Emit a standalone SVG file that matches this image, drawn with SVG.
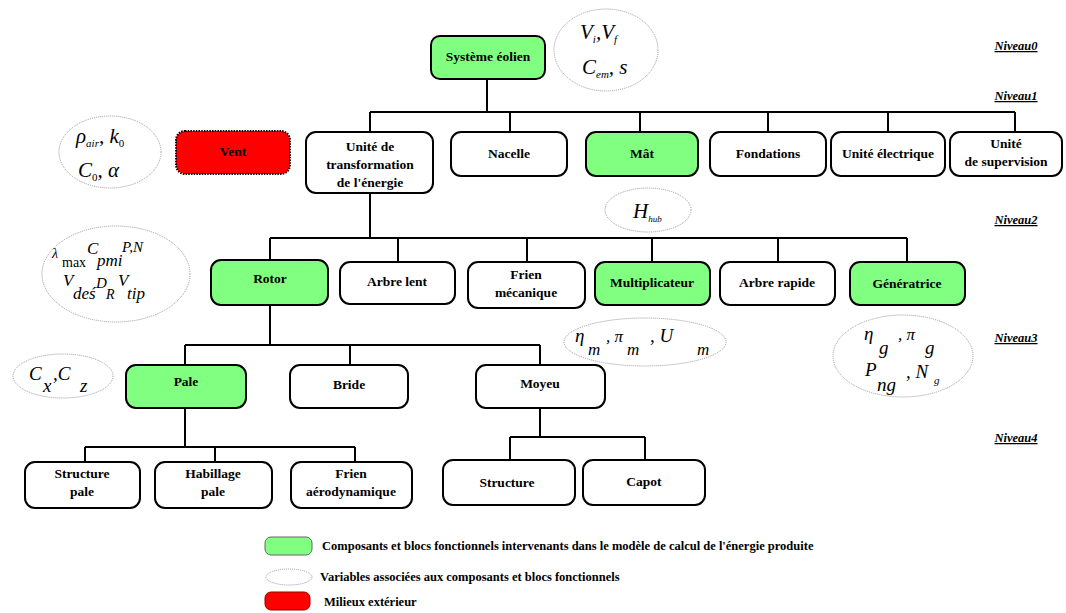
<svg xmlns="http://www.w3.org/2000/svg" width="1066" height="613" viewBox="0 0 1066 613">
<style>
.n{fill:#fff;stroke:#000;stroke-width:2}
.g{fill:#80ff80;stroke:#000;stroke-width:2}
.r{fill:#ff0000;stroke:#000;stroke-width:2;stroke-dasharray:1.5 1.2}
.e{fill:#fff;stroke:#999;stroke-width:1;stroke-dasharray:1 1}
.t{font-family:"Liberation Serif","Times New Roman","DejaVu Serif",serif;font-weight:bold;font-size:13.5px;text-anchor:middle;fill:#000}
.lv{font-family:"Liberation Serif","Times New Roman","DejaVu Serif",serif;font-weight:bold;font-style:italic;font-size:12.5px;text-decoration:underline;text-anchor:middle;fill:#000}
.m{font-family:"Liberation Serif","Times New Roman","DejaVu Serif",serif;font-style:italic;fill:#000}
.lg{font-family:"Liberation Serif","Times New Roman","DejaVu Serif",serif;font-weight:bold;font-size:12.5px;fill:#000}
.c{fill:none;stroke:#000;stroke-width:2}
</style>
<rect width="1066" height="613" fill="#fff"/>
<g id="connectors">
<path class="c" d="M487 79V112M370 112H1015M370 112V132M510 112V132M640 112V132M768 112V132M888 112V132M1015 112V132"/>
<path class="c" d="M370 193V238M270 238H907M270 238V260M398 238V262M527 238V262M652 238V262M778 238V262M907 238V262"/>
<path class="c" d="M270 305V345M185 345H540M185 345V365M350 345V365M540 345V365"/>
<path class="c" d="M185 408V447M85 447H355M85 447V462M215 447V462M355 447V462"/>
<path class="c" d="M540 408V437M510 437H645M510 437V460M645 437V460"/>
</g>
<g id="levels">
<text class="lv" x="1016" y="50">Niveau0</text>
<text class="lv" x="1016" y="100">Niveau1</text>
<text class="lv" x="1016" y="224">Niveau2</text>
<text class="lv" x="1016" y="342">Niveau3</text>
<text class="lv" x="1016" y="442">Niveau4</text>
</g>
<g id="systeme"><rect class="g" x="431" y="36" width="114" height="43" rx="9"/><text class="t" x="488" y="61">Système éolien</text></g>
<g id="var-systeme"><ellipse class="e" cx="606" cy="50" rx="52" ry="41"/>
<text class="m" x="580" y="39" style="font-size:21px">V<tspan dy="4" style="font-size:11px">i</tspan><tspan dy="-4">,V</tspan><tspan dy="4" style="font-size:11px">f</tspan></text>
<text class="m" x="582" y="74" style="font-size:21px">C<tspan dy="4" style="font-size:11px">em</tspan><tspan dy="-4">, s</tspan></text></g>
<g id="var-vent"><ellipse class="e" cx="110" cy="152" rx="51" ry="36"/>
<text class="m" x="76" y="143" style="font-size:21px">ρ<tspan dy="4" style="font-size:11px">air</tspan><tspan dy="-4">, k</tspan><tspan dy="4" style="font-size:11px;font-style:normal">0</tspan></text>
<text class="m" x="78" y="177" style="font-size:21px">C<tspan dy="4" style="font-size:11px;font-style:normal">0</tspan><tspan dy="-4">, α</tspan></text></g>
<g id="vent"><rect class="r" x="176" y="131" width="114" height="43" rx="9"/><text class="t" x="233" y="156">Vent</text></g>
<g id="unite-transfo"><rect class="n" x="306" y="132" width="127" height="61" rx="10"/><text class="t" x="370" y="151">Unité de</text><text class="t" x="370" y="169">transformation</text><text class="t" x="370" y="187">de l'énergie</text></g>
<g id="nacelle"><rect class="n" x="451" y="132" width="116" height="44" rx="10"/><text class="t" x="509" y="158">Nacelle</text></g>
<g id="mat"><rect class="g" x="586" y="132" width="112" height="44" rx="10"/><text class="t" x="642" y="158">Mât</text></g>
<g id="fondations"><rect class="n" x="710" y="132" width="116" height="44" rx="10"/><text class="t" x="768" y="158">Fondations</text></g>
<g id="unite-elec"><rect class="n" x="831" y="132" width="114" height="44" rx="10"/><text class="t" x="888" y="158">Unité électrique</text></g>
<g id="unite-sup"><rect class="n" x="950" y="132" width="112" height="44" rx="10"/><text class="t" x="1006" y="148">Unité</text><text class="t" x="1006" y="166">de supervision</text></g>
<g id="var-mat"><ellipse class="e" cx="648" cy="210" rx="43" ry="22"/>
<text class="m" x="633" y="218" style="font-size:21px">H<tspan dy="4" style="font-size:9px">hub</tspan></text></g>
<g id="var-rotor"><ellipse class="e" cx="116" cy="274" rx="74" ry="48"/>
<text class="m" x="52" y="258" style="font-size:14px">λ</text>
<text class="m" x="62" y="267" style="font-size:14px;font-style:normal">max</text>
<text class="m" x="87" y="254" style="font-size:17px">C</text>
<text class="m" x="97" y="266" style="font-size:17px">pmi</text>
<text class="m" x="122" y="252" style="font-size:15px">P,N</text>
<text class="m" x="63" y="286" style="font-size:17px">V</text>
<text class="m" x="73" y="299" style="font-size:17px">deś</text>
<text class="m" x="96" y="288" style="font-size:15px">D</text>
<text class="m" x="106" y="299" style="font-size:14px">R</text>
<text class="m" x="118" y="286" style="font-size:17px">V</text>
<text class="m" x="127" y="299" style="font-size:17px">tip</text></g>
<g id="rotor"><rect class="g" x="211" y="260" width="117" height="45" rx="10"/><text class="t" x="270" y="283">Rotor</text></g>
<g id="arbre-lent"><rect class="n" x="340" y="262" width="115" height="42" rx="10"/><text class="t" x="397" y="286">Arbre lent</text></g>
<g id="frein-meca"><rect class="n" x="468" y="262" width="117" height="46" rx="10"/><text class="t" x="526" y="279">Frien</text><text class="t" x="526" y="297">mécanique</text></g>
<g id="multiplicateur"><rect class="g" x="595" y="262" width="115" height="43" rx="10"/><text class="t" x="652" y="287">Multiplicateur</text></g>
<g id="arbre-rapide"><rect class="n" x="720" y="262" width="115" height="43" rx="10"/><text class="t" x="777" y="287">Arbre rapide</text></g>
<g id="generatrice"><rect class="g" x="850" y="262" width="115" height="43" rx="10"/><text class="t" x="907" y="288">Génératrice</text></g>
<g id="var-multi"><ellipse class="e" cx="645" cy="342" rx="81" ry="24"/>
<text class="m" x="575" y="342" style="font-size:19px">η</text><text class="m" x="588" y="355" style="font-size:17px">m</text>
<text class="m" x="606" y="342" style="font-size:17px">, π</text><text class="m" x="627" y="355" style="font-size:17px">m</text>
<text class="m" x="650" y="342" style="font-size:19px">, U</text><text class="m" x="697" y="355" style="font-size:17px">m</text></g>
<g id="var-gen"><ellipse class="e" cx="903" cy="356" rx="70" ry="41"/>
<text class="m" x="864" y="340" style="font-size:19px">η</text><text class="m" x="879" y="354" style="font-size:19px">g</text>
<text class="m" x="898" y="340" style="font-size:17px">, π</text><text class="m" x="925" y="354" style="font-size:19px">g</text>
<text class="m" x="865" y="376" style="font-size:19px">P</text><text class="m" x="877" y="391" style="font-size:19px">ng</text>
<text class="m" x="906" y="378" style="font-size:19px">, N</text><text class="m" x="934" y="384" style="font-size:11px">g</text></g>
<g id="var-pale"><ellipse class="e" cx="63" cy="376" rx="50" ry="22"/>
<text class="m" x="29" y="380" style="font-size:19px">C</text><text class="m" x="43" y="392" style="font-size:19px">x</text>
<text class="m" x="53" y="380" style="font-size:19px">,C</text><text class="m" x="80" y="392" style="font-size:19px">z</text></g>
<g id="pale"><rect class="g" x="126" y="365" width="120" height="43" rx="10"/><text class="t" x="186" y="386">Pale</text></g>
<g id="bride"><rect class="n" x="290" y="365" width="118" height="43" rx="10"/><text class="t" x="349" y="389">Bride</text></g>
<g id="moyeu"><rect class="n" x="476" y="365" width="129" height="43" rx="10"/><text class="t" x="540" y="388">Moyeu</text></g>
<g id="structure-pale"><rect class="n" x="25" y="462" width="115" height="46" rx="10"/><text class="t" x="82" y="478">Structure</text><text class="t" x="82" y="496">pale</text></g>
<g id="habillage-pale"><rect class="n" x="155" y="462" width="117" height="46" rx="10"/><text class="t" x="213" y="478">Habillage</text><text class="t" x="213" y="496">pale</text></g>
<g id="frein-aero"><rect class="n" x="291" y="462" width="121" height="46" rx="10"/><text class="t" x="351" y="478">Frien</text><text class="t" x="351" y="496">aérodynamique</text></g>
<g id="structure"><rect class="n" x="443" y="460" width="132" height="45" rx="10"/><text class="t" x="507" y="487">Structure</text></g>
<g id="capot"><rect class="n" x="583" y="460" width="122" height="45" rx="10"/><text class="t" x="644" y="486">Capot</text></g>
<g id="legend">
<rect x="265" y="537" width="47" height="18" rx="6" fill="#80ff80" stroke="#666" stroke-width="1"/>
<text class="lg" x="322" y="550">Composants et blocs fonctionnels intervenants dans le modèle de calcul de l'énergie produite</text>
<ellipse class="e" cx="289" cy="577" rx="23" ry="8"/>
<text class="lg" x="320" y="581">Variables associées aux composants et blocs fonctionnels</text>
<rect x="265" y="592" width="45" height="18" rx="6" fill="#ff0000" stroke="#900" stroke-width="1"/>
<text class="lg" x="324" y="606">Milieux extérieur</text>
</g>
</svg>
